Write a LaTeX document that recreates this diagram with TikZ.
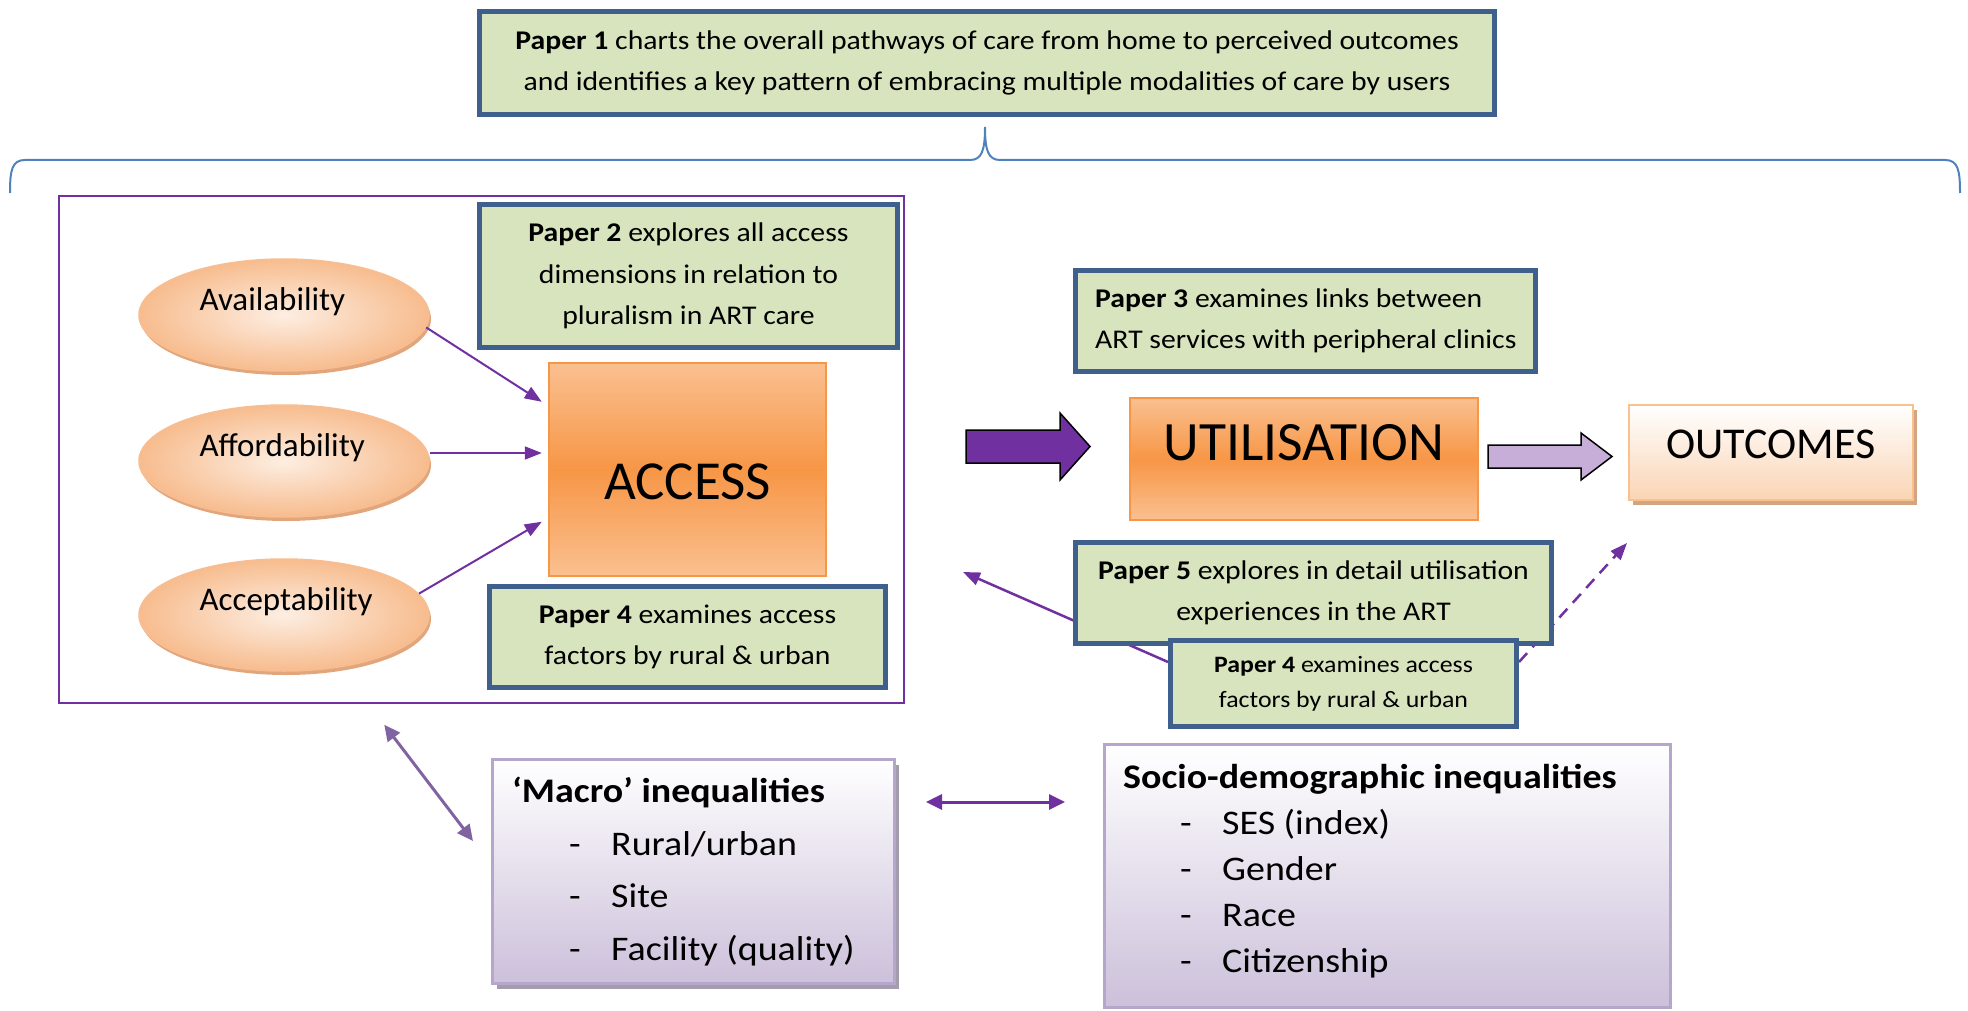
\documentclass[tikz,border=0pt]{standalone}
\usepackage{fontspec}
\setmainfont{Carlito}
\newfontfamily\wide{Carlito}[FakeStretch=1.1]
\usetikzlibrary{arrows.meta,shapes.geometric,shadows,calc}
\definecolor{pgreen}{HTML}{D7E4BD}
\definecolor{pblue}{HTML}{3F5F8C}
\definecolor{purp}{HTML}{7030A0}
\definecolor{lpurp}{HTML}{C6AED8}
\definecolor{mpurp}{HTML}{8064A2}
\definecolor{orD}{HTML}{F79646}
\definecolor{orL}{HTML}{FAC090}
\definecolor{peachIn}{HTML}{FDEEE2}
\definecolor{peachOut}{HTML}{F7BC8E}
\definecolor{peachLine}{HTML}{F8BD90}
\definecolor{peachShadow}{HTML}{E2A67C}
\definecolor{outBot}{HTML}{FAD4B4}
\definecolor{outLine}{HTML}{F9C18E}
\definecolor{outShadow}{HTML}{D2A47F}
\definecolor{lav}{HTML}{CCC0DA}
\definecolor{lavLine}{HTML}{B7A6CC}
\definecolor{lavShadow}{HTML}{A39BAE}
\definecolor{braceblue}{HTML}{4F81BD}
\pgfdeclarelayer{bg}
\pgfsetlayers{bg,main}
\newcommand\myfs[2]{\fontsize{#1}{#2}\selectfont}
\begin{document}
\begin{tikzpicture}[x=1pt,y=-1pt,
  font=\wide\myfs{27}{41.5},
  paper/.style={draw=pblue, line width=5, fill=pgreen, inner sep=0, align=center},
  oval/.style={ellipse, draw=peachLine, line width=1.5, inner color=peachIn, outer color=peachOut,
     minimum width=290, minimum height=112, inner sep=0,
     drop shadow={shadow xshift=2pt, shadow yshift=-4pt, fill=peachShadow, opacity=1}},
  orbox/.style={draw=orD, line width=2.5, top color=orL, bottom color=orL, middle color=orD, inner sep=0},
  ineq/.style={draw=lavLine, line width=3, top color=white, bottom color=lav, inner sep=0, align=left},
  thinarr/.style={draw=purp, line width=2, -{Triangle[length=17pt,width=13pt]}},
  dblarr/.style={line width=3, {Triangle[length=16pt,width=15pt]}-{Triangle[length=16pt,width=15pt]}},
  bigtxt/.style={inner sep=0}
]
\useasboundingbox (0,0) rectangle (1968,1011);

% Paper 1 and brace
\node[paper, minimum width=1015, minimum height=103] (p1) at (987,63)
  {\textbf{Paper 1} charts the overall pathways of care from home to perceived outcomes\\and identifies a key pattern of embracing multiple modalities of care by users};
\draw[draw=braceblue, line width=2] (10,193) .. controls (10,170) and (12,160) .. (25,160) -- (970,160)
  .. controls (982,160) and (985,150) .. (985,127) .. controls (985,150) and (988,160) .. (1000,160)
  -- (1945,160) .. controls (1958,160) and (1960,170) .. (1960,193);

% access frame
\node[draw=purp, line width=1.5, minimum width=845, minimum height=507, inner sep=0] (frame) at (481.5,449.5) {};

\node[oval] (avail) at (284,315) {};
\node[oval] (afford) at (284,461) {};
\node[oval] (accept) at (284,615) {};
\node[anchor=west, font=\myfs{33}{38}] (tavail) at ([shift={(-88,-13)}]avail.center) {Availability};
\node[anchor=west, font=\myfs{33}{38}] (tafford) at ([shift={(-88,-13)}]afford.center) {Affordability};
\node[anchor=west, font=\myfs{33}{38}] (taccept) at ([shift={(-88,-13)}]accept.center) {Acceptability};

\node[paper, minimum width=418, minimum height=143] (p2) at (688.5,276)
  {\textbf{Paper 2} explores all access\\dimensions in relation to\\pluralism in ART care};
\node[orbox, minimum width=277, minimum height=213] (access) at (687.5,469.5) {};
\node[bigtxt, font=\myfs{55}{60}] (taccess) at ([yshift=-12]access.center) {ACCESS};
\node[paper, minimum width=396, minimum height=101] (p4a) at (687.5,637)
  {\textbf{Paper 4} examines access\\factors by rural \& urban};

\draw[thinarr] (avail.-5) -- ([shift={(-6,40)}]access.north west);
\draw[thinarr] ([yshift=8pt]afford.east) -- ([shift={(-6,-16.5)}]access.west);
\draw[thinarr] (accept.9) -- ([shift={(-6,160)}]access.north west);

% right part
\node[paper, minimum width=460, minimum height=101] (p3) at (1305.5,321) {};
\node[anchor=west, inner sep=0, align=left] (tp3) at ([xshift=22]p3.west)
  {\textbf{Paper 3} examines links between\\ART services with peripheral clinics};
\draw[fill=purp, draw=black, line width=1.5] (966,430) -- (1060,430) -- (1060,413) -- (1090,446.5) -- (1060,480) -- (1060,463) -- (966,463) -- cycle;
\node[orbox, minimum width=348, minimum height=122] (util) at (1304,459) {};
\node[bigtxt, font=\myfs{55.5}{60}] (tutil) at ([yshift=16]util.center) {UTILISATION};
\draw[fill=lpurp, draw=black, line width=1.5] (1488,445) -- (1581,445) -- (1581,433) -- (1612,456.5) -- (1581,480) -- (1581,468) -- (1488,468) -- cycle;
\node[draw=outLine, line width=2.5, top color=white, bottom color=outBot, minimum width=284, minimum height=95, inner sep=0,
  drop shadow={shadow xshift=4pt, shadow yshift=-5pt, fill=outShadow, opacity=1}] (outc) at (1771,452.5) {};
\node[bigtxt, font=\myfs{44}{50}] (toutc) at ([yshift=8]outc.center) {OUTCOMES};

\node[paper, minimum width=476, minimum height=101] (p5) at (1313.5,593)
  {\textbf{Paper 5} explores in detail utilisation\\experiences in the ART};
\node[paper, minimum width=346, minimum height=86, font=\wide\myfs{23.5}{35}] (p4b) at (1343.5,683.5)
  {\textbf{Paper 4} examines access\\factors by rural \& urban};

\coordinate (backend) at (963,572);
\coordinate (outend) at (1627,543);
\begin{pgfonlayer}{bg}
\draw[thinarr, line width=2.5] ([yshift=21.5pt]p4b.west) -- (backend);
\draw[thinarr, line width=2.5, dash pattern=on 12pt off 8pt] ([yshift=21.5pt]p4b.east) -- (outend);
\end{pgfonlayer}

% inequalities
\node[ineq, minimum width=402, minimum height=224,
  drop shadow={shadow xshift=4pt, shadow yshift=-5pt, fill=lavShadow, opacity=1}] (macro) at (693.5,871.5) {};
\node[anchor=north west, inner sep=0, align=left, font=\wide\myfs{34.5}{52.5}] (tmacro) at ([shift={(21,19)}]macro.north west)
  {\textbf{‘Macro’ inequalities}\\
   \hspace*{57pt}\makebox[42pt][l]{-}Rural/urban\\
   \hspace*{57pt}\makebox[42pt][l]{-}Site\\
   \hspace*{57pt}\makebox[42pt][l]{-}Facility (quality)};
\node[ineq, minimum width=566, minimum height=263] (socio) at (1387.5,876) {};
\node[anchor=north west, inner sep=0, align=left, font=\wide\myfs{34.5}{46}] (tsocio) at ([shift={(20,21)}]socio.north west)
  {\textbf{Socio-demographic inequalities}\\
   \hspace*{57pt}\makebox[42pt][l]{-}SES (index)\\
   \hspace*{57pt}\makebox[42pt][l]{-}Gender\\
   \hspace*{57pt}\makebox[42pt][l]{-}Race\\
   \hspace*{57pt}\makebox[42pt][l]{-}Citizenship};

\draw[dblarr, draw=purp, fill=purp] ([shift={(30,-69.5)}]macro.east) -- ([shift={(-38,-74)}]socio.west);
\draw[dblarr, draw=mpurp, fill=mpurp] ([shift={(326,21)}]frame.south west) -- ([shift={(-18,-30.5)}]macro.west);
\end{tikzpicture}
\end{document}
